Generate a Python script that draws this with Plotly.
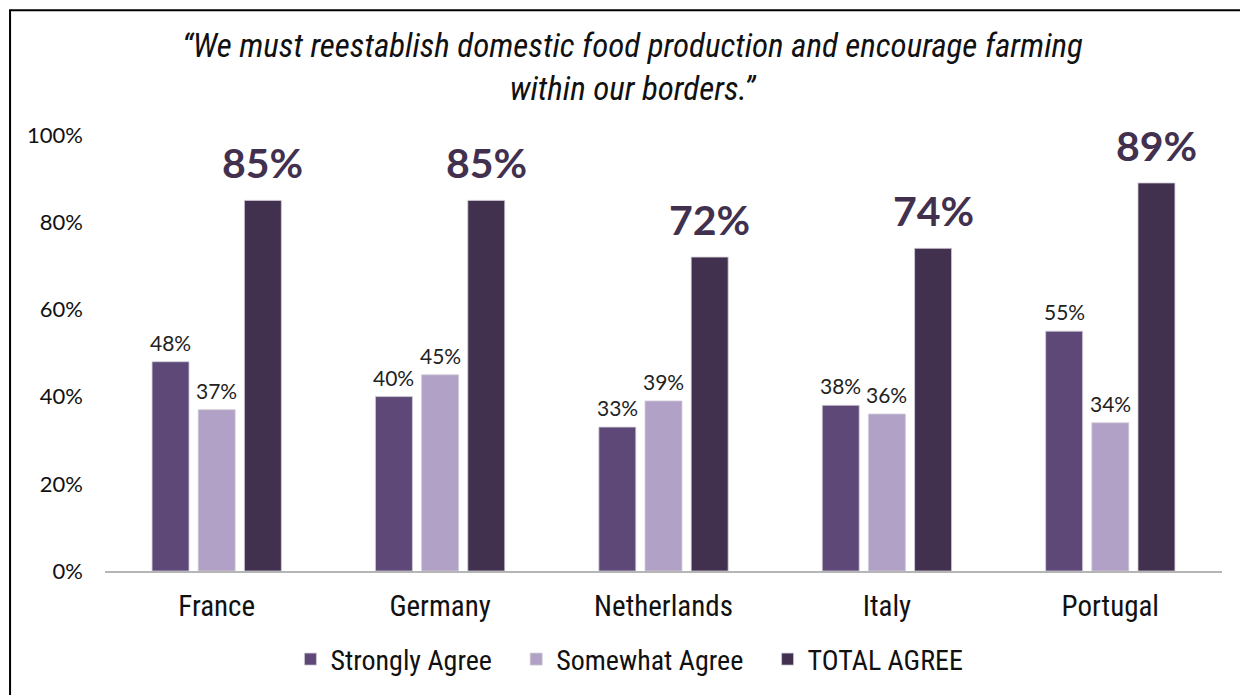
import plotly.graph_objects as go

countries = ["France", "Germany", "Netherlands", "Italy", "Portugal"]
strongly_agree = [48, 40, 33, 38, 55]
somewhat_agree = [37, 45, 39, 36, 34]
total_agree = [85, 85, 72, 74, 89]
series_names = ["Strongly Agree", "Somewhat Agree", "TOTAL AGREE"]
y_ticks = [0, 20, 40, 60, 80, 100]
y_tick_labels = ["0%", "20%", "40%", "60%", "80%", "100%"]
title_text = "<i>“We must reestablish domestic food production and encourage farming<br>within our borders.”</i>"

colors = ["#5e4878", "#b2a1c6", "#42304f"]
cond = "Liberation Sans Narrow, Roboto Condensed, Arial Narrow, sans-serif"
lab = "Lato, Roboto, sans-serif"

BARGAP = 0.38
GROUPGAP = 0.2
series = [
    (series_names[0], strongly_agree, colors[0], 21, "#222222", False, 5),
    (series_names[1], somewhat_agree, colors[1], 21, "#222222", False, 5),
    (series_names[2], total_agree, colors[2], 41, "#42304f", True, 11),
]
n = len(series)
slot = (1 - BARGAP) / n

fig = go.Figure()
annotations = []
for k, (name, vals, col, fs, fcol, bold, gap) in enumerate(series):
    fig.add_trace(go.Bar(
        x=countries, y=vals, name=name + "\u00a0\u00a0\u00a0",
        marker=dict(color=col, line=dict(color="#d0cbd6", width=0.8)),
        cliponaxis=False,
    ))
    off = (k - (n - 1) / 2) * slot
    for i, v in enumerate(vals):
        annotations.append(dict(
            x=i + off, y=v, xref="x", yref="y",
            text=(f"<b>{v}%</b>" if bold else f"{v}%"),
            showarrow=False, yanchor="bottom", xanchor="center", yshift=gap,
            font=dict(size=fs, color=fcol, family=lab),
        ))

annotations.append(dict(text=title_text, xref="paper", yref="paper",
                        x=0.472, y=1.155, xanchor="center", yanchor="middle",
                        showarrow=False,
                        font=dict(size=33, family=cond, color="#111111")))

fig.update_layout(
    width=1239, height=687,
    margin=dict(l=97, r=25, t=127, b=123),
    plot_bgcolor="white", paper_bgcolor="white",
    barmode="group", bargap=BARGAP, bargroupgap=GROUPGAP,
    showlegend=True,
    legend=dict(orientation="h", x=0.478, xanchor="center", y=-0.2, yanchor="middle",
                font=dict(size=28, family=cond, color="#111111"),
                itemwidth=30, traceorder="normal"),
    xaxis=dict(showline=True, linecolor="#b5b5b5", linewidth=2, ticks="",
               ticklabelstandoff=8,
               tickfont=dict(size=29, family=cond, color="#111111")),
    yaxis=dict(range=[0, 100], tickmode="array", tickvals=y_ticks, ticktext=y_tick_labels,
               showgrid=False, zeroline=False, showline=False,
               ticklabelstandoff=21,
               tickfont=dict(size=22, family=lab, color="#111111")),
    annotations=annotations,
    shapes=[dict(type="rect", xref="paper", yref="paper",
                 x0=-0.085, x1=1.0206, y0=-0.3, y1=1.286,
                 line=dict(color="black", width=2), fillcolor="rgba(0,0,0,0)", layer="below")],
)

fig.write_html("out.html")
